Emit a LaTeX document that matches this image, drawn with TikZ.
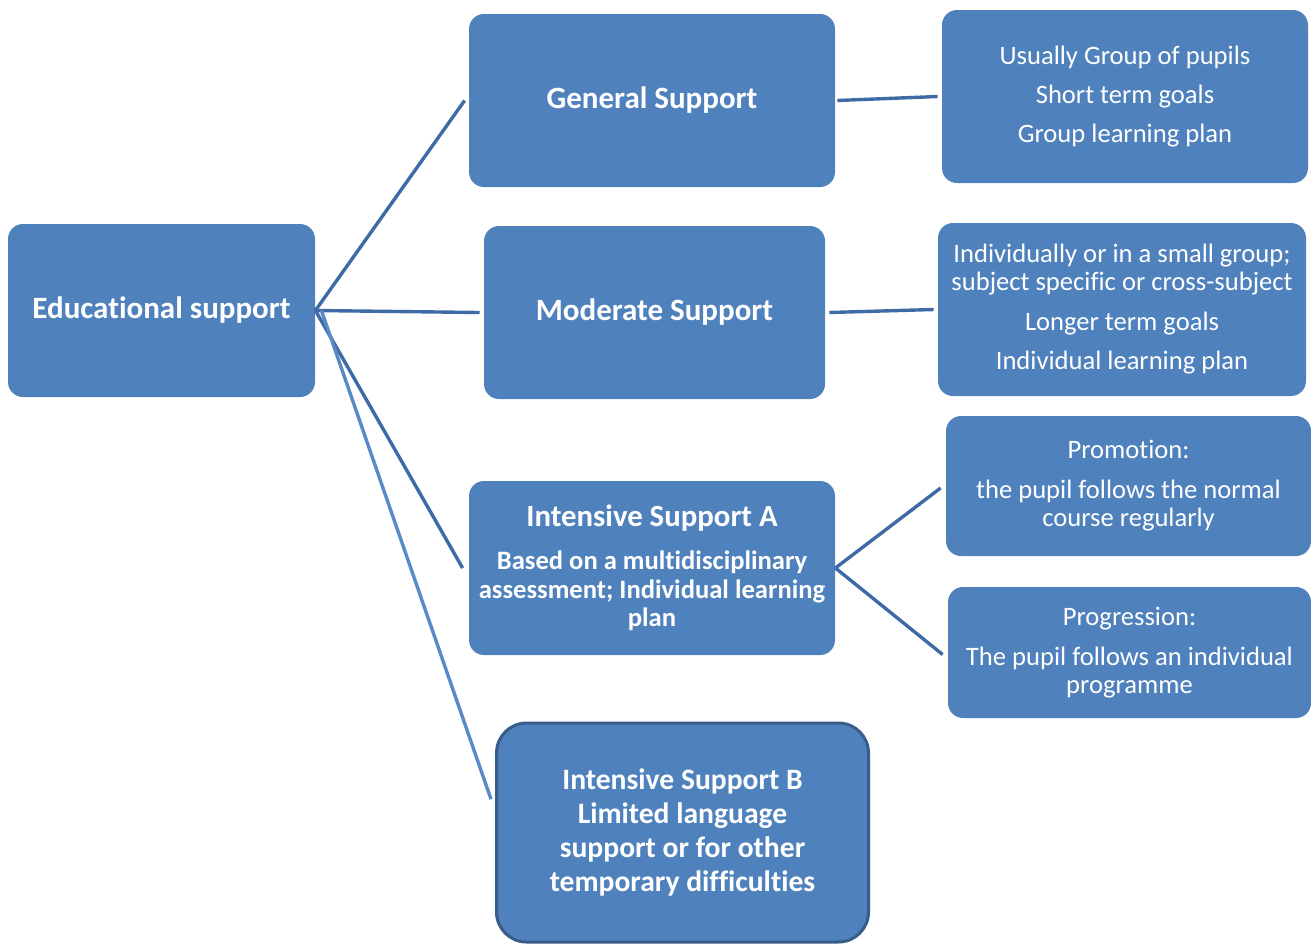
\documentclass[tikz,border=0pt]{standalone}
\usepackage{fontspec}
\setmainfont{Carlito}[Ligatures=NoCommon]
\usetikzlibrary{calc}
\definecolor{boxblue}{HTML}{4F81BD}
\definecolor{linkblue}{HTML}{3E6BA6}
\definecolor{lightlink}{HTML}{5A8AC6}
\definecolor{borderblue}{HTML}{385D8A}
\tikzset{
  box/.style={fill=boxblue, draw=none, rounded corners=7.5pt, text=white, align=center, inner sep=0pt},
  title/.style={font=\fontsize{15.5}{17}\selectfont\bfseries},
  body/.style={font=\fontsize{13.3}{14}\selectfont},
  link/.style={draw=linkblue, line width=1.7pt},
}
\begin{document}
\begin{tikzpicture}[x=0.5pt,y=-0.5pt]
\useasboundingbox (0,0) rectangle (1311,944);
\node[box,title,minimum width=153.5pt,minimum height=86.5pt] (ed) at (161.5,310.5) {Educational support};
\node[box,title,minimum width=183pt,minimum height=86.5pt] (gen) at (652,100.5) {General Support};
\node[box,title,minimum width=170.5pt,minimum height=86.5pt] (mod) at (654.5,312.5) {Moderate Support};
\node[box,minimum width=183pt,minimum height=87pt,font=\fontsize{13.3}{14.3}\selectfont\bfseries] (ia) at (652,568)
  {{\fontsize{15.4}{16}\selectfont Intensive Support A}\\[7pt]Based on a multidisciplinary\\assessment; Individual learning\\plan};
\node[box,draw=borderblue,line width=1.5pt,rounded corners=15pt,minimum width=186pt,minimum height=109.5pt,font=\fontsize{14.8}{17}\selectfont\bfseries] (ib) at (682.5,832.5)
  {Intensive Support B\\Limited language\\support or for other\\temporary difficulties};
\node[box,body,minimum width=183pt,minimum height=86.5pt] (r1) at (1125,96.5)
  {Usually Group of pupils\\[5.5pt]Short term goals\\[5.5pt]Group learning plan};
\node[box,body,minimum width=184pt,minimum height=86.5pt] (r2) at (1122,309.5)
  {Individually or in a small group;\\subject specific or cross-subject\\[6pt]Longer term goals\\[5.5pt]Individual learning plan};
\node[box,body,minimum width=182.5pt,minimum height=70pt] (pro) at (1128.5,486)
  {Promotion:\\[6pt]the pupil follows the normal\\course regularly};
\node[box,body,minimum width=181.5pt,minimum height=65.5pt] (prg) at (1129.5,652.5)
  {Progression:\\[6pt]The pupil follows an individual\\programme};
\coordinate (ibin) at ($(ib.north west)!0.35!(ib.south west)$);
\draw[link] (ed.east) -- ([xshift=-2pt]gen.west);
\draw[link] (ed.east) -- ([xshift=-2pt]mod.west);
\draw[link] (ed.east) -- ([xshift=-3pt]ia.west);
\draw[draw=lightlink,line width=1.7pt] ([xshift=3pt]ed.east) -- ([xshift=-2pt]ibin);
\draw[link] ([xshift=1pt]gen.east) -- ([xshift=-2pt]r1.west);
\draw[link] ([xshift=2pt]mod.east) -- ([xshift=-2pt]r2.west);
\draw[link] (ia.east) -- ([xshift=-2.5pt,yshift=-1pt]pro.west);
\draw[link] (ia.east) -- ([xshift=-2.5pt,yshift=-1pt]prg.west);
\end{tikzpicture}
\end{document}
